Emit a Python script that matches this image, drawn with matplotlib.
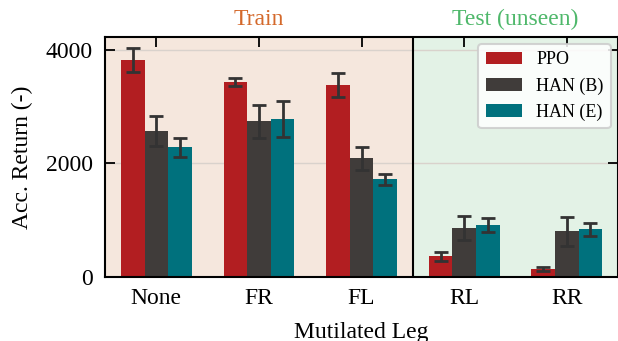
import numpy as np
import matplotlib.pyplot as plt

# Data
legs = ["None", "FR", "FL", "RL", "RR"]
methods = ["PPO", "HAN (B)", "HAN (E)"]
ppo_mean = [3820, 3430, 3380, 360, 140]
ppo_err = [205, 75, 210, 85, 38]
hanb_mean = [2570, 2740, 2090, 860, 805]
hanb_err = [260, 290, 200, 210, 255]
hane_mean = [2285, 2780, 1720, 910, 840]
hane_err = [170, 320, 100, 120, 115]
colors = ["#b21e21", "#403c3a", "#00717d"]

plt.rcParams["font.family"] = ["Liberation Serif", "DejaVu Serif"]

fig = plt.figure(figsize=(6.18, 3.41), dpi=100)
ax = fig.add_axes([0.170, 0.188, 0.830, 0.704])

x = np.arange(len(legs))
width = 0.23
means = [ppo_mean, hanb_mean, hane_mean]
errs = [ppo_err, hanb_err, hane_err]

ax.axvspan(-0.5, 2.5, color="#f5e7dd", zorder=0, lw=0)
ax.axvspan(2.5, 4.5, color="#e3f2e6", zorder=0, lw=0)
ax.axvline(2.5, color="black", lw=1.5, zorder=4)
ax.yaxis.grid(True, color="#d9d2cc", lw=1.0, zorder=1)
ax.set_axisbelow(True)

for i, (m, e) in enumerate(zip(means, errs)):
    ax.bar(x + (i - 1) * width, m, width, color=colors[i], label=methods[i], zorder=2)
    ax.errorbar(x + (i - 1) * width, m, yerr=e, fmt="none", ecolor="#333333",
                elinewidth=2, capsize=5, capthick=2, zorder=3)

ax.set_xlim(-0.5, 4.5)
ax.set_ylim(0, 4230)
ax.set_xticks(x)
ax.set_xticklabels(legs)
ax.set_yticks([0, 2000, 4000])
ax.tick_params(direction="in", length=7, width=1.3, labelsize=17,
               top=True, right=True)
ax.tick_params(axis="y", pad=9)
ax.tick_params(axis="x", pad=8)
for s in ax.spines.values():
    s.set_linewidth(1.5)

ax.set_xlabel("Mutilated Leg", fontsize=17, labelpad=9)
ax.set_ylabel("Acc. Return (-)", fontsize=17, labelpad=9)

ax.text(1.0, 1.03, "Train", transform=ax.get_xaxis_transform(), ha="center",
        va="bottom", fontsize=17, color="#d4692b")
ax.text(3.5, 1.03, "Test (unseen)", transform=ax.get_xaxis_transform(), ha="center",
        va="bottom", fontsize=17, color="#4fb86b")

leg = ax.legend(loc="upper right", fontsize=13, frameon=True, fancybox=True,
                borderaxespad=0.4, handlelength=2.0)
leg.get_frame().set_edgecolor("#cccccc")
leg.get_frame().set_linewidth(1.5)
leg.get_frame().set_facecolor("white")
leg.get_frame().set_alpha(0.85)

fig.savefig("out.png", dpi=100)
